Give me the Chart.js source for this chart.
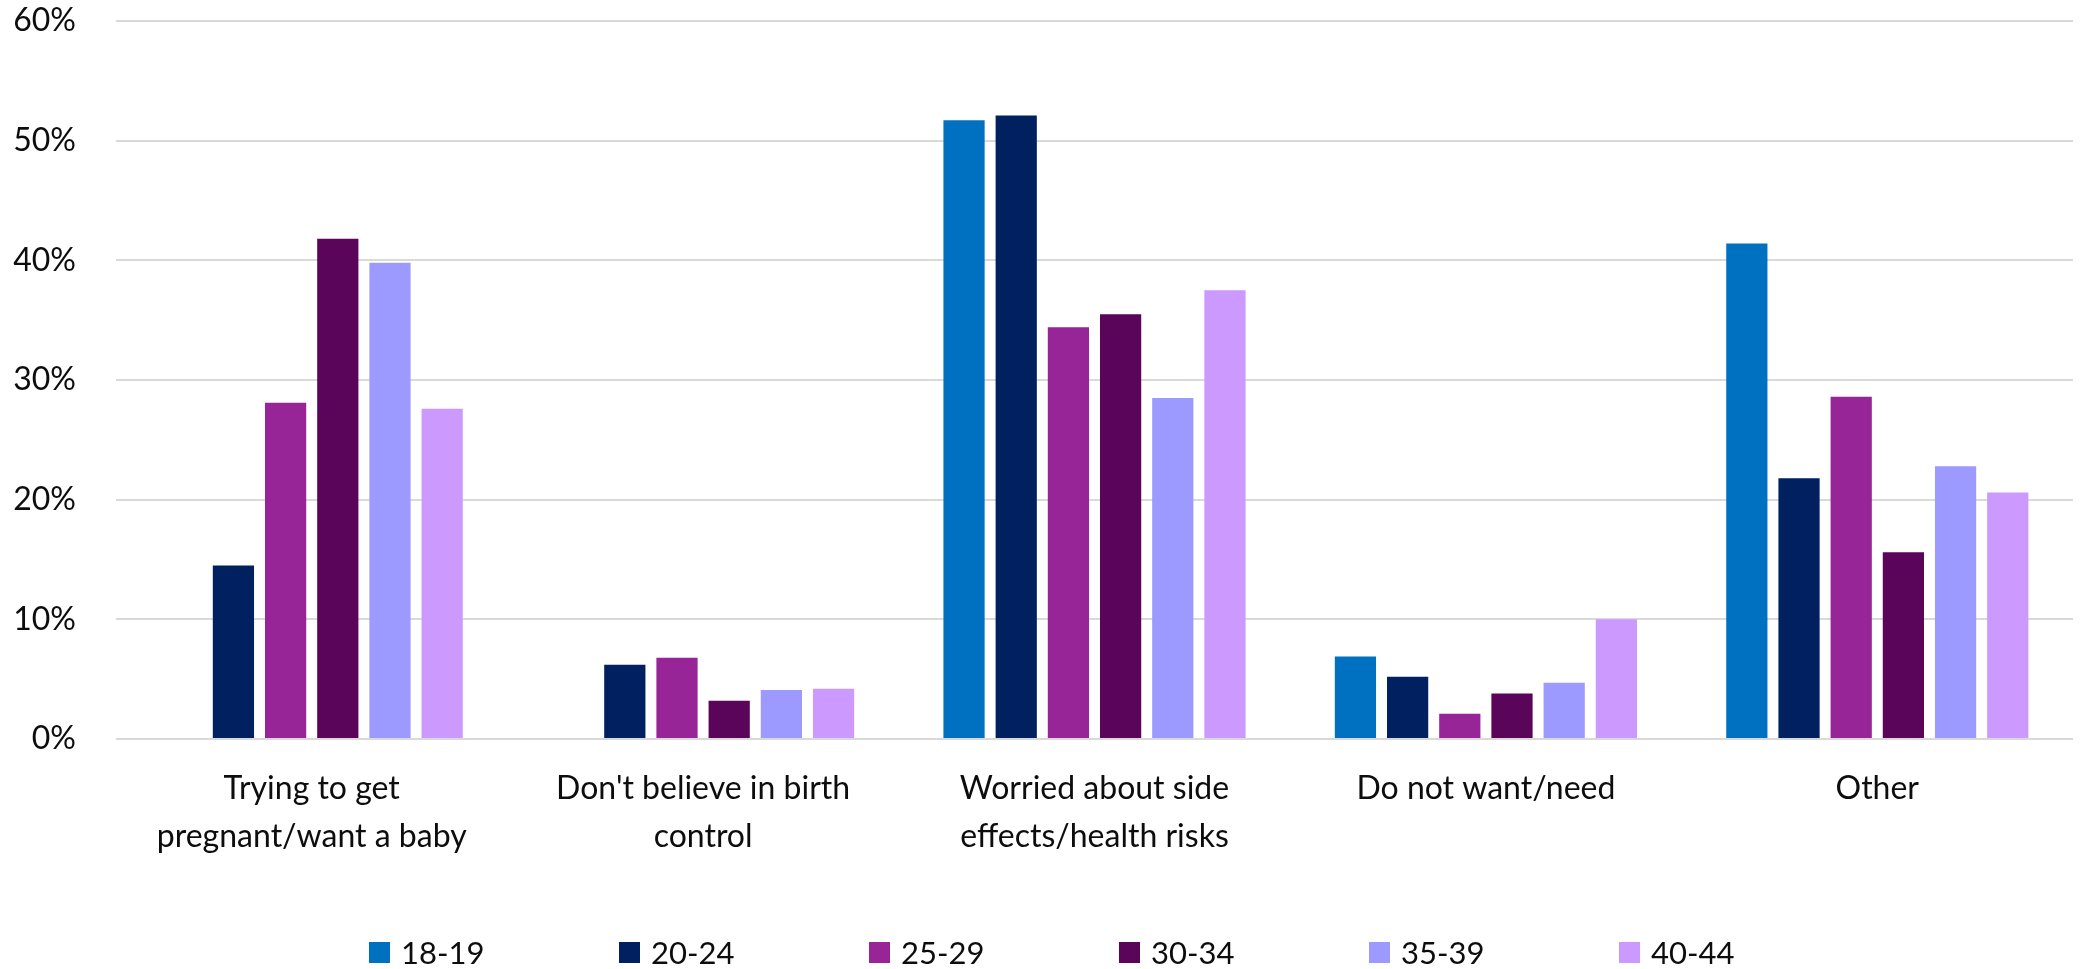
<!DOCTYPE html>
<html>
<head>
<meta charset="utf-8">
<script src="https://cdn.jsdelivr.net/npm/chart.js@4/dist/chart.umd.min.js"></script>
<style>
  html, body { margin: 0; padding: 0; background: #ffffff; }
  #wrap { position: relative; width: 2087px; height: 969px; }
  #chart { position: absolute; left: 0; top: 0; }
  #legend {
    position: absolute; left: 369px; top: 931px; height: 42px;
    display: flex; align-items: center;
    font-family: Lato, "Open Sans", sans-serif; font-size: 31px; color: #0d0d0d;
  }
  #legend .item { width: 250px; display: flex; align-items: center; }
  #legend .swatch { width: 21px; height: 21px; margin-right: 11px; flex: none; }
</style>
</head>
<body>
<div id="wrap">
  <canvas id="chart" width="2087" height="969"></canvas>
  <div id="legend"></div>
</div>
<script>
// Reasons for not using birth control, by age group (percent of respondents)
const categories = [
  ['Trying to get', 'pregnant/want a baby'],
  ["Don't believe in birth", 'control'],
  ['Worried about side', 'effects/health risks'],
  'Do not want/need',
  'Other'
];

const ageGroups = ['18-19', '20-24', '25-29', '30-34', '35-39', '40-44'];

const age18to19 = [null, null, 51.7, 6.9, 41.4];
const age20to24 = [14.5, 6.2, 52.1, 5.2, 21.8];
const age25to29 = [28.1, 6.8, 34.4, 2.1, 28.6];
const age30to34 = [41.8, 3.2, 35.5, 3.8, 15.6];
const age35to39 = [39.8, 4.1, 28.5, 4.7, 22.8];
const age40to44 = [27.6, 4.2, 37.5, 10.0, 20.6];

const yTicks = [0, 10, 20, 30, 40, 50, 60];

const seriesValues = [age18to19, age20to24, age25to29, age30to34, age35to39, age40to44];
const seriesColors = ['#0070C0', '#002060', '#982598', '#5A0559', '#9C9AFF', '#CC99FF'];

const FONT = 'Lato, "Open Sans", sans-serif';
const TEXT = '#0d0d0d';

const datasets = ageGroups.map((name, i) => ({
  label: name,
  data: seriesValues[i],
  backgroundColor: seriesColors[i],
  borderWidth: 0,
  categoryPercentage: 0.8,
  barPercentage: 0.79
}));

const chart = new Chart(document.getElementById('chart'), {
  type: 'bar',
  data: { labels: categories, datasets },
  options: {
    responsive: false,
    animation: false,
    devicePixelRatio: 1,
    layout: { padding: { top: 21, right: 14, bottom: 0, left: 0 } },
    plugins: {
      tooltip: { enabled: false },
      legend: { display: false }
    },
    scales: {
      x: {
        grid: { display: false },
        border: { display: false },
        ticks: {
          color: TEXT,
          padding: 18,
          maxRotation: 0,
          autoSkip: false,
          font: { family: FONT, size: 32, lineHeight: 1.5 }
        },
        afterFit: (scale) => {
          scale.height = 230;
          scale.paddingLeft = 0;
          scale.paddingRight = 0;
        }
      },
      y: {
        min: 0,
        max: 60,
        afterBuildTicks: (scale) => { scale.ticks = yTicks.map(v => ({ value: v })); },
        grid: { color: '#d9d9d9', lineWidth: 2, drawTicks: false },
        border: { display: false },
        ticks: {
          color: TEXT,
          padding: 40,
          font: { family: FONT, size: 32 },
          callback: (v) => v + '%'
        },
        afterFit: (scale) => {
          scale.width = 116;
          scale.paddingTop = 0;
          scale.paddingBottom = 0;
        }
      }
    }
  }
});

// Legend built from the chart's own datasets
const legendEl = document.getElementById('legend');
chart.data.datasets.forEach((ds) => {
  const item = document.createElement('div');
  item.className = 'item';
  const swatch = document.createElement('span');
  swatch.className = 'swatch';
  swatch.style.background = ds.backgroundColor;
  const text = document.createElement('span');
  text.textContent = ds.label;
  item.appendChild(swatch);
  item.appendChild(text);
  legendEl.appendChild(item);
});
</script>
</body>
</html>
